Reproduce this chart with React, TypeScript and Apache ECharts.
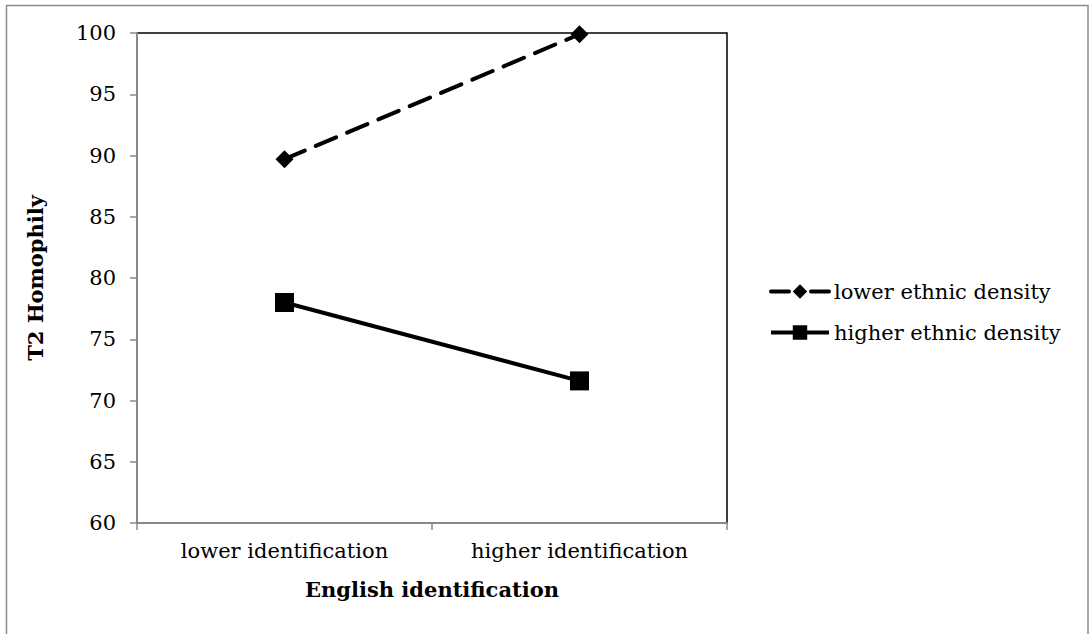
import React, { useEffect, useRef } from "react";
import * as echarts from "echarts";

const categories = ["lower identification", "higher identification"];
const lowerDensity = [89.7, 99.9];
const higherDensity = [78.0, 71.6];
const seriesNames = ["lower ethnic density", "higher ethnic density"];
const yTicks = { min: 60, max: 100, interval: 5 };

const FONT = "DejaVu Serif";

export default function App() {
  const ref = useRef<HTMLDivElement>(null);
  useEffect(() => {
    if (!ref.current) return;
    const chart = echarts.init(ref.current, undefined, { renderer: "svg" });
    chart.setOption({
      animation: false,
      backgroundColor: "#fff",
      textStyle: { fontFamily: FONT },
      graphic: [
        {
          type: "rect",
          shape: { x: 6.5, y: 5.5, width: 1081.5, height: 640 },
          style: { fill: "none", stroke: "#8c8c8c", lineWidth: 1.5 },
          silent: true,
        },
      ],
      grid: {
        left: 137,
        top: 33,
        right: 362,
        bottom: 111,
        show: true,
        borderColor: "#000",
        borderWidth: 1.5,
        backgroundColor: "transparent",
      },
      legend: {
        orient: "vertical",
        left: 764,
        top: 276,
        itemWidth: 58,
        itemHeight: 18,
        itemGap: 20,
        data: [
          { name: seriesNames[0], lineStyle: { width: 4, type: [18, 22], cap: "round" } },
          { name: seriesNames[1], lineStyle: { width: 4, type: "solid" } },
        ],
        textStyle: { fontFamily: FONT, fontSize: 21, color: "#000" },
      },
      xAxis: {
        type: "category",
        data: categories,
        boundaryGap: true,
        name: "English identification",
        nameLocation: "middle",
        nameGap: 56,
        nameTextStyle: { fontFamily: FONT, fontSize: 21, fontWeight: "bold", color: "#000" },
        axisLine: { lineStyle: { color: "#888", width: 2 } },
        axisTick: { show: true, length: 7, lineStyle: { color: "#888", width: 1.5 } },
        axisLabel: { margin: 17, fontFamily: FONT, fontSize: 21, color: "#000" },
        splitLine: { show: false },
      },
      yAxis: {
        type: "value",
        min: yTicks.min,
        max: yTicks.max,
        interval: yTicks.interval,
        name: "T2 Homophily",
        nameLocation: "middle",
        nameGap: 91,
        nameTextStyle: { fontFamily: FONT, fontSize: 21, fontWeight: "bold", color: "#000" },
        axisLine: { show: true, lineStyle: { color: "#888", width: 2 } },
        axisTick: { show: true, length: 7, lineStyle: { color: "#888", width: 1.5 } },
        axisLabel: { margin: 21, fontFamily: FONT, fontSize: 21, color: "#000" },
        splitLine: { show: false },
      },
      series: [
        {
          name: seriesNames[0],
          type: "line",
          data: lowerDensity,
          symbol: "diamond",
          symbolSize: 18,
          color: "#000",
          itemStyle: { color: "#000" },
          lineStyle: { color: "#000", width: 4, type: [22, 12], cap: "round" },
        },
        {
          name: seriesNames[1],
          type: "line",
          data: higherDensity,
          symbol: "rect",
          symbolSize: 19,
          color: "#000",
          itemStyle: { color: "#000" },
          lineStyle: { color: "#000", width: 4, type: "solid" },
        },
      ],
    });
    return () => chart.dispose();
  }, []);
  return (
    <div
      ref={ref}
      style={{ position: "fixed", left: 0, top: 0, width: 1089, height: 634 }}
    />
  );
}
